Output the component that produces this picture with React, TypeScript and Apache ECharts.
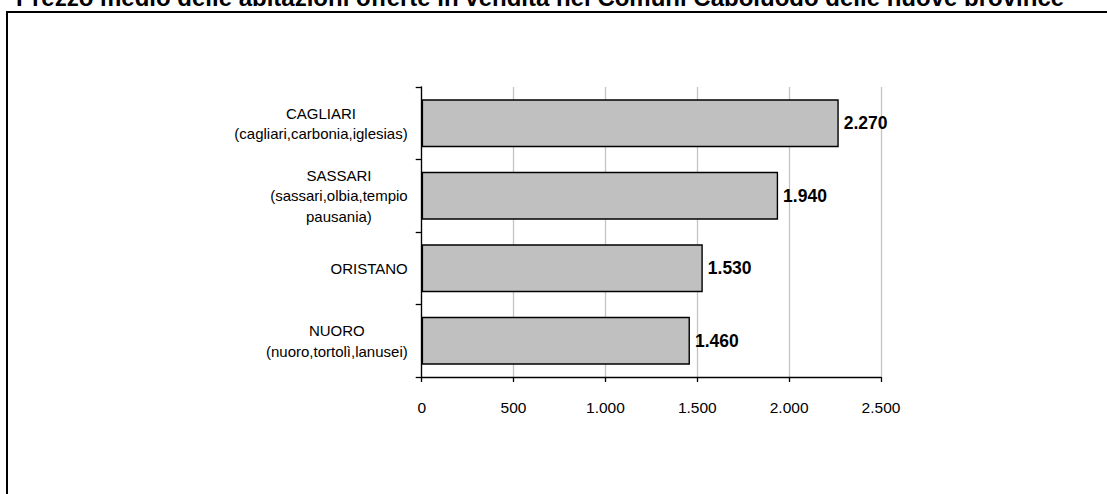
import React, { useEffect, useRef } from "react";
import * as echarts from "echarts";

const titleText =
  "Prezzo medio delle abitazioni offerte in vendita nei Comuni Capoluogo delle nuove province";
const categories = [
  "CAGLIARI\n(cagliari,carbonia,iglesias)",
  "SASSARI\n(sassari,olbia,tempio\npausania)",
  "ORISTANO",
  "NUORO\n(nuoro,tortolì,lanusei)",
];
const prices = [2270, 1940, 1530, 1460];
const xTicks = { min: 0, max: 2500, interval: 500 };

const fmt = (v: number) =>
  Math.round(v)
    .toString()
    .replace(/\B(?=(\d{3})+(?!\d))/g, ".");

export default function App() {
  const ref = useRef<HTMLDivElement>(null);
  useEffect(() => {
    if (!ref.current) return;
    const chart = echarts.init(ref.current, null, { renderer: "svg" });
    const font = "Liberation Sans, Arial, sans-serif";
    chart.setOption({
      animation: false,
      backgroundColor: "#ffffff",
      textStyle: { fontFamily: font },
      grid: { left: 421.7, right: 226, top: 87, bottom: 117 },
      graphic: [
        {
          type: "text",
          x: 540,
          y: -3,
          z: 10,
          style: {
            text: titleText,
            fontSize: 24,
            fontWeight: "bold",
            fontFamily: font,
            fill: "#000",
            align: "center",
            verticalAlign: "middle",
          },
        },
        {
          type: "rect",
          z: 11,
          shape: { x: 0, y: 6, width: 1107, height: 5 },
          style: { fill: "#fff" },
        },
        {
          type: "rect",
          z: 12,
          shape: { x: 6, y: 11, width: 1101, height: 2 },
          style: { fill: "#000" },
        },
        {
          type: "rect",
          z: 12,
          shape: { x: 6, y: 11, width: 2, height: 483 },
          style: { fill: "#000" },
        },
      ],
      xAxis: {
        type: "value",
        min: xTicks.min,
        max: xTicks.max,
        interval: xTicks.interval,
        axisLine: { show: true, lineStyle: { color: "#000", width: 1.3 } },
        axisTick: { show: true, length: 5, lineStyle: { color: "#000", width: 1.3 } },
        splitLine: { show: true, lineStyle: { color: "#c4c4c4", width: 1.3 } },
        axisLabel: {
          color: "#000",
          fontSize: 15.5,
          fontFamily: font,
          margin: 22,
          formatter: (v: number) => fmt(v),
        },
      },
      yAxis: {
        type: "category",
        inverse: true,
        data: categories,
        axisLine: { show: true, lineStyle: { color: "#000", width: 1.3 } },
        axisTick: { show: true, length: 6, lineStyle: { color: "#000", width: 1.3 } },
        axisLabel: {
          color: "#000",
          fontSize: 15,
          fontFamily: font,
          margin: 14,
          align: "right",
          lineHeight: 20.5,
          formatter: (v: string) =>
            v
              .split("\n")
              .map((s) => `{c|${s}}`)
              .join("\n"),
          rich: {
            c: {
              align: "center",
              fontSize: 15,
              fontFamily: font,
              lineHeight: 20.5,
              color: "#000",
            },
          },
        },
      },
      series: [
        {
          type: "bar",
          data: prices,
          barCategoryGap: "34%",
          itemStyle: { color: "#c0c0c0", borderColor: "#000", borderWidth: 1.4 },
          label: {
            show: true,
            position: "right",
            distance: 5,
            color: "#000",
            fontWeight: "bold",
            fontSize: 17.5,
            fontFamily: font,
            formatter: (p: any) => fmt(p.value),
          },
        },
      ],
    });
    return () => chart.dispose();
  }, []);
  return (
    <div
      ref={ref}
      style={{ position: "absolute", left: 0, top: 0, width: 1107, height: 494 }}
    />
  );
}
